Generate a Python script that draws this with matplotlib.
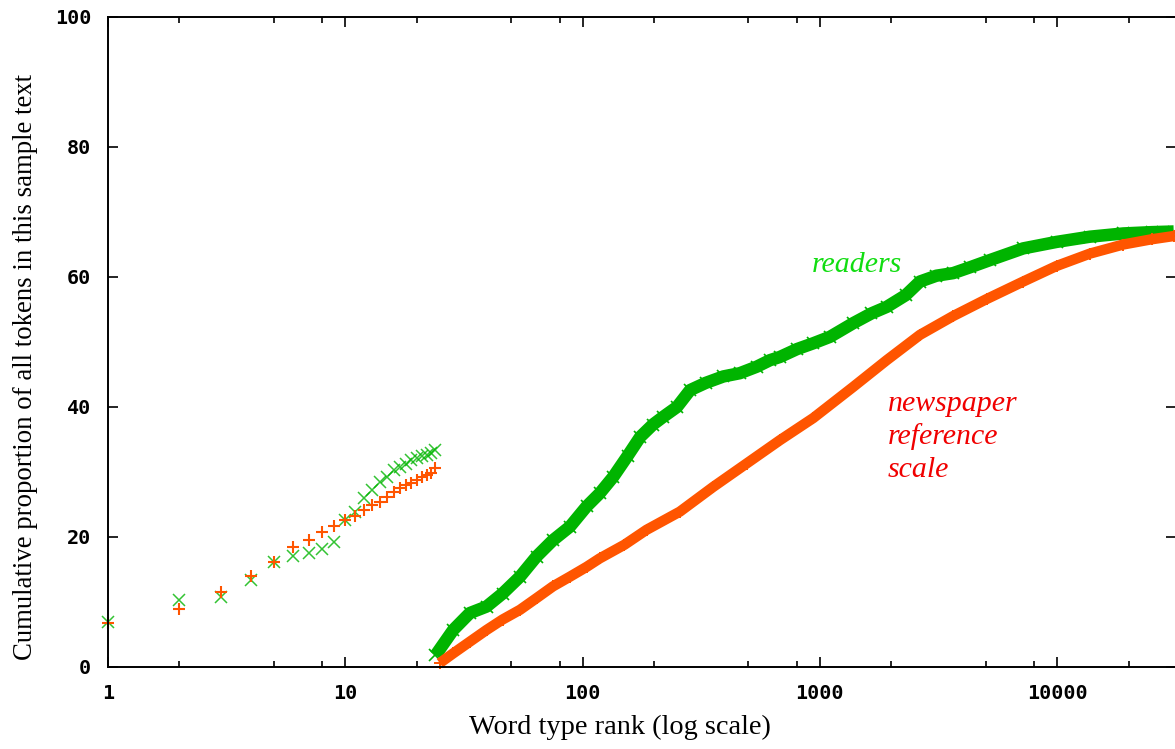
import matplotlib
matplotlib.use("Agg")
import matplotlib.pyplot as plt
from matplotlib.ticker import FixedLocator, NullFormatter


# ==========================
# Data
# ==========================
# first run: ranks 1..24
rank_top = list(range(1, 25))
readers_top = [7.0, 10.3, 10.7, 13.4, 16.2, 17.1, 17.6, 18.1, 19.3, 22.6,
               23.9, 26.0, 27.2, 28.5, 29.3, 30.3, 30.8, 31.3, 31.8, 32.1,
               32.4, 32.6, 33.0, 33.4]
newspaper_top = [6.8, 9.0, 11.6, 14.0, 16.2, 18.5, 19.6, 20.8, 21.7, 22.6,
                 23.2, 24.2, 24.9, 25.4, 26.2, 27.0, 27.5, 28.0, 28.3, 28.8,
                 29.3, 29.6, 29.9, 30.6]

# second run: dense curves from rank ~24 upward
readers_rank = [24, 28.5, 33.5, 39.4, 46, 54.5, 64, 75, 88.5, 104, 118, 135,
                155, 175, 198, 219, 250, 284, 330, 392, 460, 542, 616, 679,
                800, 938, 1104, 1383, 1650, 1913, 2300, 2642, 3100, 3650,
                4300, 5210, 7195, 9950, 13750, 19000, 25000, 31000]
readers_val = [1.8, 5.7, 8.3, 9.3, 11.3, 13.9, 17.0, 19.5, 21.6, 24.7, 26.7,
               29.3, 32.5, 35.4, 37.3, 38.5, 40.0, 42.6, 43.7, 44.7, 45.2,
               46.2, 47.2, 47.7, 48.9, 49.8, 50.8, 52.9, 54.4, 55.4, 57.2,
               59.3, 60.2, 60.6, 61.5, 62.6, 64.4, 65.4, 66.2, 66.7, 66.9,
               67.0]

newspaper_rank = [25, 28.5, 33.5, 39.4, 46, 54.5, 64, 75, 88.5, 104, 118, 150,
                  186, 257, 355, 491, 679, 938, 1383, 1913, 2642, 3650, 5043,
                  7195, 9950, 13750, 19000, 25000, 31000]
newspaper_val = [0.6, 2.1, 3.9, 5.7, 7.3, 8.8, 10.6, 12.4, 13.9, 15.4, 16.7,
                 18.8, 21.1, 23.9, 27.7, 31.3, 34.9, 38.3, 43.1, 47.2, 51.1,
                 54.0, 56.6, 59.3, 61.7, 63.6, 65.0, 65.8, 66.3]

x_ticks = [1, 10, 100, 1000, 10000]
x_ticklabels = ["1", "10", "100", "1000", "10000"]
y_ticks = [0, 20, 40, 60, 80, 100]

green = "#00b400"
orange = "#ff5500"

fig = plt.figure(figsize=(11.75, 7.49), dpi=100)
ax = fig.add_axes([108 / 1175, 1 - 667 / 749, 1068 / 1175, 650 / 749])

# first run, individual markers
ax.plot(rank_top, readers_top, ls="none", marker="x", ms=8.5, mew=1.1,
        color=green, alpha=0.8, clip_on=False)
ax.plot(rank_top, newspaper_top, ls="none", marker="+", ms=9, mew=1.5,
        color=orange, clip_on=False)

# second run, dense bands of markers
ax.plot(readers_rank, readers_val, color=green, lw=9, solid_capstyle="butt")
ax.plot(readers_rank, readers_val, ls="none", marker="x", ms=8, mew=1.2,
        color=green)
ax.plot(newspaper_rank, newspaper_val, color=orange, lw=7.5,
        solid_capstyle="butt")
ax.plot(newspaper_rank, newspaper_val, ls="none", marker="+", ms=8, mew=1.4,
        color=orange, clip_on=False)

ax.set_xscale("log")
ax.set_xlim(1, 31700)
ax.set_ylim(0, 100)

ax.xaxis.set_major_locator(FixedLocator(x_ticks))
ax.xaxis.set_minor_locator(FixedLocator(
    [m * 10 ** k for k in range(5) for m in (2, 5, 8) if m * 10 ** k < 31700]))
ax.xaxis.set_minor_formatter(NullFormatter())
ax.set_xticklabels(x_ticklabels)
ax.set_yticks(y_ticks)

for lab in ax.get_xticklabels() + ax.get_yticklabels():
    lab.set_fontfamily("DejaVu Sans Mono")
    lab.set_fontweight("bold")
    lab.set_fontsize(14.5)

ax.tick_params(which="both", direction="in", top=True, right=True,
               width=1.2, color="black")
ax.tick_params(which="major", length=7, pad=12)
ax.tick_params(which="minor", length=4)
for s in ax.spines.values():
    s.set_linewidth(1.4)

ax.set_xlabel("Word type rank (log scale)", family="Liberation Serif",
              fontsize=20.4, labelpad=9)
ax.set_ylabel("Cumulative proportion of all tokens in this sample text",
              family="Liberation Serif", fontsize=19.3, labelpad=12)
# gnuplot places the labels a little off-centre
ax.xaxis.label.set_x(0.479)
ax.yaxis.label.set_y(0.462)

note = dict(family="Liberation Serif", style="italic", fontsize=21.5,
            va="baseline")
ax.text(926, 60.8, "readers", color="#11dd11", **note)
ax.text(1937, 39.4, "newspaper", color="#f00000", **note)
ax.text(1937, 34.3, "reference", color="#f00000", **note)
ax.text(1937, 29.2, "scale", color="#f00000", **note)

fig.savefig("out.png", dpi=100)
